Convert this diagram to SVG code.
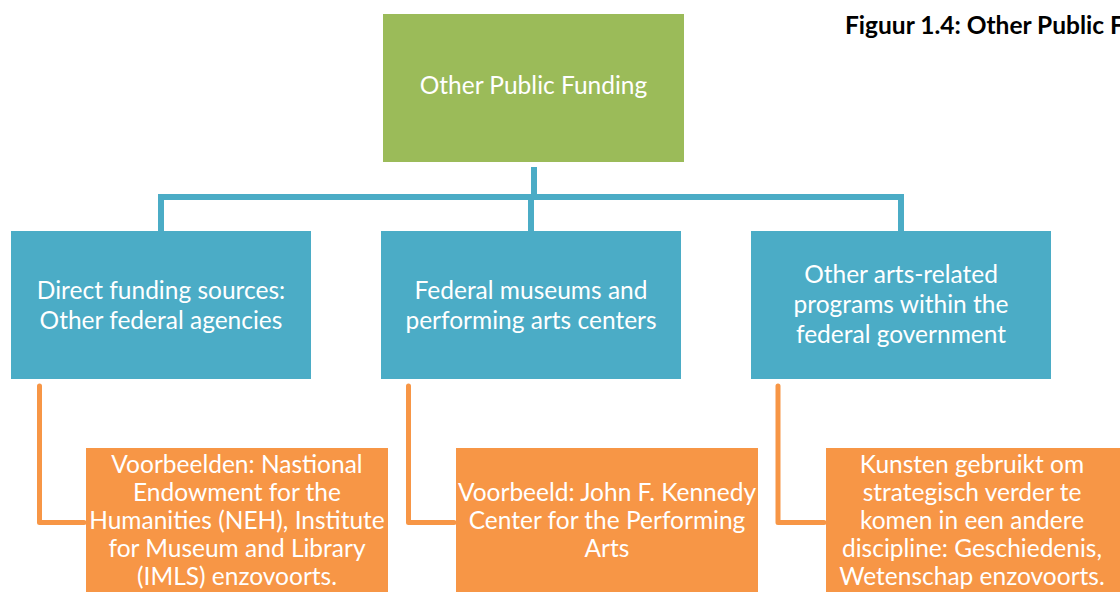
<svg xmlns="http://www.w3.org/2000/svg" width="1120" height="592" viewBox="0 0 1120 592">
  <style>
    .root { fill: #9BBB59; }
    .mid { fill: #4BACC6; }
    .leaf { fill: #F79646; }
    .lbl { font-family: Lato, "Liberation Sans", sans-serif; fill: #ffffff; text-anchor: middle; font-size: 24.5px; }
    .blue-line { fill: none; stroke: #4BACC6; stroke-width: 6; }
    .orange-line { fill: none; stroke: #F79646; stroke-width: 5; stroke-linejoin: round; stroke-linecap: round; }
    .title { font-family: Lato, "Liberation Sans", sans-serif; font-weight: bold; font-size: 24.5px; fill: #000000; }
  </style>

  <text class="title" x="845" y="34">Figuur 1.4: Other Public F</text>

  <!-- connectors -->
  <g id="connectors">
    <path class="blue-line" d="M534 167 V197"/>
    <path class="blue-line" d="M161 231 V197 H901 V231"/>
    <path class="blue-line" d="M531 197 V231"/>
    <path class="orange-line" d="M39.5 386 V522.5 H84"/>
    <path class="orange-line" d="M408.5 386 V522.5 H454"/>
    <path class="orange-line" d="M778 386 V522.5 H824"/>
  </g>

  <g id="root">
    <rect class="root" x="383" y="14" width="301" height="148"/>
    <text class="lbl" x="533.5" y="94">Other Public Funding</text>
  </g>

  <g id="direct">
    <rect class="mid" x="11" y="231" width="300" height="148"/>
    <text class="lbl" x="161" y="299">Direct funding sources:</text>
    <text class="lbl" x="161" y="329">Other federal  agencies</text>
  </g>

  <g id="museums">
    <rect class="mid" x="381" y="231" width="300" height="148"/>
    <text class="lbl" x="531" y="299">Federal museums and</text>
    <text class="lbl" x="531" y="329">performing arts centers</text>
  </g>

  <g id="programs">
    <rect class="mid" x="751" y="231" width="300" height="148"/>
    <text class="lbl" x="901" y="283">Other arts-related</text>
    <text class="lbl" x="901" y="313">programs within the</text>
    <text class="lbl" x="901" y="343">federal government</text>
  </g>

  <g id="examples">
    <rect class="leaf" x="86" y="448" width="302" height="150"/>
    <text class="lbl" x="237" y="473">Voorbeelden: Nastional</text>
    <text class="lbl" x="237" y="501">Endowment for the</text>
    <text class="lbl" x="237" y="529">Humanities (NEH), Institute</text>
    <text class="lbl" x="237" y="557">for Museum and Library</text>
    <text class="lbl" x="237" y="585">(IMLS) enzovoorts.</text>
  </g>

  <g id="kennedy">
    <rect class="leaf" x="456" y="448" width="302" height="150"/>
    <text class="lbl" x="607" y="501">Voorbeeld: John F. Kennedy</text>
    <text class="lbl" x="607" y="529">Center for the Performing</text>
    <text class="lbl" x="607" y="557">Arts</text>
  </g>

  <g id="disciplines">
    <rect class="leaf" x="826" y="448" width="302" height="150"/>
    <text class="lbl" x="972" y="473">Kunsten gebruikt om</text>
    <text class="lbl" x="972" y="501">strategisch verder te</text>
    <text class="lbl" x="972" y="529">komen in een andere</text>
    <text class="lbl" x="972" y="557">discipline: Geschiedenis,</text>
    <text class="lbl" x="972" y="585">Wetenschap enzovoorts.</text>
  </g>
</svg>
